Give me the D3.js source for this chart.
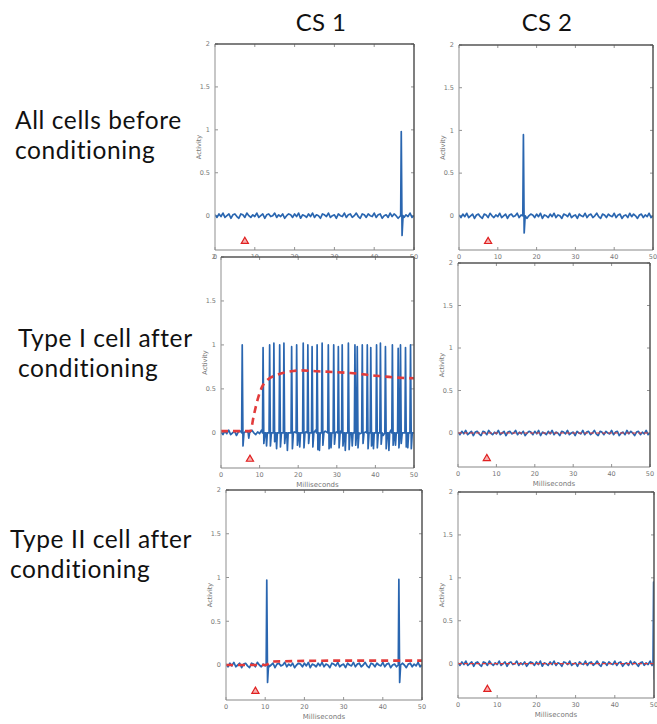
<!DOCTYPE html>
<html>
<head>
<meta charset="utf-8">
<script src="https://cdn.jsdelivr.net/npm/d3@7"></script>
<style>
  body { margin: 0; background: #fff; }
</style>
</head>
<body>
<svg id="fig" width="657" height="724"></svg>
<script>
const rowLabels = [
  ["All cells before", "conditioning"],
  ["Type I cell after", "conditioning"],
  ["Type II cell after", "conditioning"]
];
const colLabels = ["CS 1", "CS 2"];
const xTicks = [0, 10, 20, 30, 40, 50];
const yTicks = [0, 0.5, 1, 1.5, 2];
const yTickLabels = ["0", "0.5", "1", "1.5", "2"];

// baseline jitter, one value every 0.5 ms from 0 to 50
const baselineNoise = [
  0.01, -0.02, 0.02, -0.01, 0.03, -0.02, 0.00, 0.02, -0.03, 0.01,
  0.02, -0.01, -0.03, 0.02, 0.01, -0.02, 0.03, 0.00, -0.02, 0.01,
  -0.01, 0.03, -0.02, 0.00, 0.02, -0.03, 0.01, 0.02, -0.01, 0.00,
  0.03, -0.02, 0.01, -0.01, 0.02, -0.03, 0.00, 0.02, 0.01, -0.02,
  0.02, -0.01, 0.03, -0.03, 0.01, 0.00, -0.02, 0.02, -0.01, 0.03,
  -0.02, 0.01, 0.00, -0.03, 0.02, 0.01, -0.01, 0.03, -0.02, 0.00,
  0.01, -0.03, 0.02, 0.00, -0.01, 0.03, -0.02, 0.01, 0.02, -0.02,
  0.00, 0.03, -0.01, -0.03, 0.02, 0.01, -0.02, 0.02, 0.00, -0.01,
  0.03, -0.02, 0.01, 0.02, -0.03, 0.00, 0.01, -0.02, 0.03, -0.01,
  0.02, 0.00, -0.03, 0.01, 0.02, -0.02, 0.01, -0.01, 0.03, -0.02,
  0.00
];

// spikes: [time ms, peak, trough]
const spikesBeforeCS1 = [[46.8, 0.98, -0.23]];
const spikesBeforeCS2 = [[16.6, 0.95, -0.2]];
const spikesTypeICS1 = [
  [5.5, 1.0, -0.15], [10.9, 0.97, -0.12], [12.6, 1.0, -0.15], [13.7, 1.02, -0.1],
  [15.2, 1.0, -0.16], [16.3, 1.02, -0.12], [18.3, 0.98, -0.18], [19.6, 1.0, -0.14],
  [21.3, 1.02, -0.17], [22.5, 1.0, -0.12], [23.6, 0.98, -0.16], [24.9, 1.0, -0.19],
  [26.2, 1.02, -0.14], [27.8, 1.0, -0.18], [29.2, 1.0, -0.13], [30.4, 0.98, -0.17],
  [31.4, 1.0, -0.15], [33.0, 1.02, -0.19], [34.7, 1.0, -0.14], [35.3, 0.98, -0.17],
  [36.6, 1.0, -0.12], [37.9, 1.0, -0.18], [38.8, 0.97, -0.15], [40.3, 1.0, -0.17],
  [41.3, 1.02, -0.13], [42.6, 0.98, -0.18], [44.4, 1.0, -0.14], [45.9, 0.96, -0.17],
  [46.5, 1.0, -0.12], [47.8, 0.97, -0.16], [49.1, 1.0, -0.18]
];
const spikesTypeICS2 = [];
const spikesTypeIICS1 = [[10.4, 0.97, -0.2], [44.1, 0.98, -0.2]];
const spikesTypeIICS2 = [[49.9, 0.95, -0.18]];

// small downward dips between spikes: [time ms, depth]
const dipsTypeICS1 = [
  [7.2, -0.06], [11.8, -0.15], [14.4, -0.18], [17.2, -0.2], [20.4, -0.16],
  [25.5, -0.2], [28.5, -0.17], [32.2, -0.2], [34.0, -0.15], [39.5, -0.18],
  [43.5, -0.2], [45.2, -0.14], [48.4, -0.17]
];

// red dashed firing-rate curves: [time ms, value]
const rateTypeICS1 = [
  [0, 0.02], [5, 0.02], [7.6, 0.02], [8.5, 0.2], [9.5, 0.38], [10.6, 0.52],
  [12, 0.6], [14.5, 0.66], [17, 0.69], [20.6, 0.71], [25, 0.7], [30, 0.69],
  [33.6, 0.68], [40, 0.65], [45, 0.63], [50, 0.62]
];
const rateTypeICS2 = [[0, 0], [50, 0]];
const rateTypeIICS1 = [[0, 0], [10, 0], [12, 0.04], [30, 0.05], [50, 0.05]];
const rateTypeIICS2 = [[0, 0], [50, 0]];

const cueTime = 7.5;
const cueLevel = -0.3;

const panels = [
  { box: [215, 414, 44, 250], spikes: spikesBeforeCS1, dips: [], rate: null },
  { box: [459, 653, 45, 250], spikes: spikesBeforeCS2, dips: [], rate: null },
  { box: [221, 414, 257, 468], spikes: spikesTypeICS1, dips: dipsTypeICS1, rate: rateTypeICS1, bold: true },
  { box: [458, 650, 263, 467], spikes: spikesTypeICS2, dips: [], rate: rateTypeICS2 },
  { box: [226, 422, 490, 700], spikes: spikesTypeIICS1, dips: [], rate: rateTypeIICS1, bold: true },
  { box: [458, 654, 492, 698], spikes: spikesTypeIICS2, dips: [], rate: rateTypeIICS2 }
];

const svg = d3.select("#fig");
svg.append("rect").attr("width", 657).attr("height", 724).attr("fill", "#fff");

const tinyFont = "DejaVu Sans, sans-serif";
const bigFont = "Lato, 'Open Sans', sans-serif";

function buildTrace(spikes, dips) {
  const pts = baselineNoise
    .map((v, i) => [i * 0.5, v])
    .filter(p => !spikes.some(s => p[0] > s[0] - 0.35 && p[0] < s[0] + 0.6))
    .filter(p => !dips.some(s => p[0] > s[0] - 0.3 && p[0] < s[0] + 0.35));
  spikes.forEach(([t, pk, tr]) => {
    pts.push([t - 0.15, 0], [t, pk], [t + 0.2, tr], [t + 0.45, 0]);
  });
  dips.forEach(([t, d]) => {
    pts.push([t - 0.15, 0], [t, d], [t + 0.2, 0]);
  });
  return pts.sort((a, b) => a[0] - b[0]);
}

panels.forEach((p, i) => {
  const [x0, x1, y0, y1] = p.box;
  const x = d3.scaleLinear().domain([0, 50]).range([x0, x1]);
  const y = d3.scaleLinear().domain([-0.4, 2]).range([y1, y0]);
  const g = svg.append("g");

  g.append("rect")
    .attr("x", x0).attr("y", y0)
    .attr("width", x1 - x0).attr("height", y1 - y0)
    .attr("fill", "#fff");

  const clipId = "clip" + i;
  g.append("clipPath").attr("id", clipId)
    .append("rect")
    .attr("x", x0).attr("y", y0)
    .attr("width", x1 - x0).attr("height", y1 - y0);

  // ticks, inward on all four sides
  const tickLen = 3;
  xTicks.forEach(t => {
    g.append("line").attr("x1", x(t)).attr("x2", x(t)).attr("y1", y1).attr("y2", y1 - tickLen)
      .attr("stroke", "#777").attr("stroke-width", 0.8);
    g.append("line").attr("x1", x(t)).attr("x2", x(t)).attr("y1", y0).attr("y2", y0 + tickLen)
      .attr("stroke", "#777").attr("stroke-width", 0.8);
    g.append("text").attr("x", x(t)).attr("y", y1 + 9)
      .attr("text-anchor", "middle").attr("font-family", tinyFont)
      .attr("font-size", 6.5).attr("fill", "#777").text(t);
  });
  yTicks.forEach((t, k) => {
    g.append("line").attr("x1", x0).attr("x2", x0 + tickLen).attr("y1", y(t)).attr("y2", y(t))
      .attr("stroke", "#777").attr("stroke-width", 0.8);
    g.append("line").attr("x1", x1).attr("x2", x1 - tickLen).attr("y1", y(t)).attr("y2", y(t))
      .attr("stroke", "#777").attr("stroke-width", 0.8);
    g.append("text").attr("x", x0 - 5).attr("y", y(t) + 2.3)
      .attr("text-anchor", "end").attr("font-family", tinyFont)
      .attr("font-size", 6.5).attr("fill", "#777").text(yTickLabels[k]);
  });

  g.append("text")
    .attr("transform", `translate(${x0 - 14},${(y0 + y1) / 2}) rotate(-90)`)
    .attr("text-anchor", "middle").attr("font-family", tinyFont)
    .attr("font-size", 6.5).attr("fill", "#777").text("Activity");
  g.append("text").attr("x", (x0 + x1) / 2).attr("y", y1 + 19)
    .attr("text-anchor", "middle").attr("font-family", tinyFont)
    .attr("font-size", 7).attr("fill", "#777").text("Milliseconds");

  const line = d3.line().x(d => x(d[0])).y(d => y(d[1]));
  const plot = g.append("g").attr("clip-path", `url(#${clipId})`);

  plot.append("path")
    .attr("d", line(buildTrace(p.spikes, p.dips)))
    .attr("fill", "none")
    .attr("stroke", "#2a66b0")
    .attr("stroke-width", 1.7)
    .attr("stroke-linejoin", "round");

  if (p.rate) {
    plot.append("path")
      .attr("d", d3.line().curve(d3.curveMonotoneX).x(d => x(d[0])).y(d => y(d[1]))(p.rate))
      .attr("fill", "none")
      .attr("stroke", "#e23b3b")
      .attr("stroke-width", p.bold ? 2.6 : 1.2)
      .attr("stroke-dasharray", p.bold ? "7,5" : "4,2");
  }

  g.append("path")
    .attr("d", d3.symbol(d3.symbolTriangle, 22)())
    .attr("transform", `translate(${x(cueTime)},${y(cueLevel)})`)
    .attr("fill", "#f7b0b0")
    .attr("stroke", "#e02020")
    .attr("stroke-width", 1.2);

  // box: left/bottom lighter, top/right darker
  g.append("line").attr("x1", x0).attr("x2", x0).attr("y1", y0).attr("y2", y1)
    .attr("stroke", "#999").attr("stroke-width", 1.1);
  g.append("line").attr("x1", x0).attr("x2", x1).attr("y1", y1).attr("y2", y1)
    .attr("stroke", "#888").attr("stroke-width", 1.1);
  g.append("line").attr("x1", x0).attr("x2", x1).attr("y1", y0).attr("y2", y0)
    .attr("stroke", "#555").attr("stroke-width", 1.5);
  g.append("line").attr("x1", x1).attr("x2", x1).attr("y1", y0).attr("y2", y1)
    .attr("stroke", "#555").attr("stroke-width", 1.5);
});

// column titles
const colCenters = [321, 547];
colLabels.forEach((c, i) => {
  svg.append("text")
    .attr("x", colCenters[i]).attr("y", 31)
    .attr("text-anchor", "middle")
    .attr("font-family", bigFont).attr("font-size", 24).attr("fill", "#111")
    .attr("letter-spacing", 0.4)
    .text(c);
});

// row titles
const rowPos = [[15, 129], [18, 347], [10, 548]];
rowLabels.forEach((lines, i) => {
  lines.forEach((s, k) => {
    svg.append("text")
      .attr("x", rowPos[i][0]).attr("y", rowPos[i][1] + k * 29.5)
      .attr("font-family", bigFont).attr("font-size", 24.5).attr("fill", "#111")
      .attr("letter-spacing", 0.6)
      .text(s);
  });
});
</script>
</body>
</html>
